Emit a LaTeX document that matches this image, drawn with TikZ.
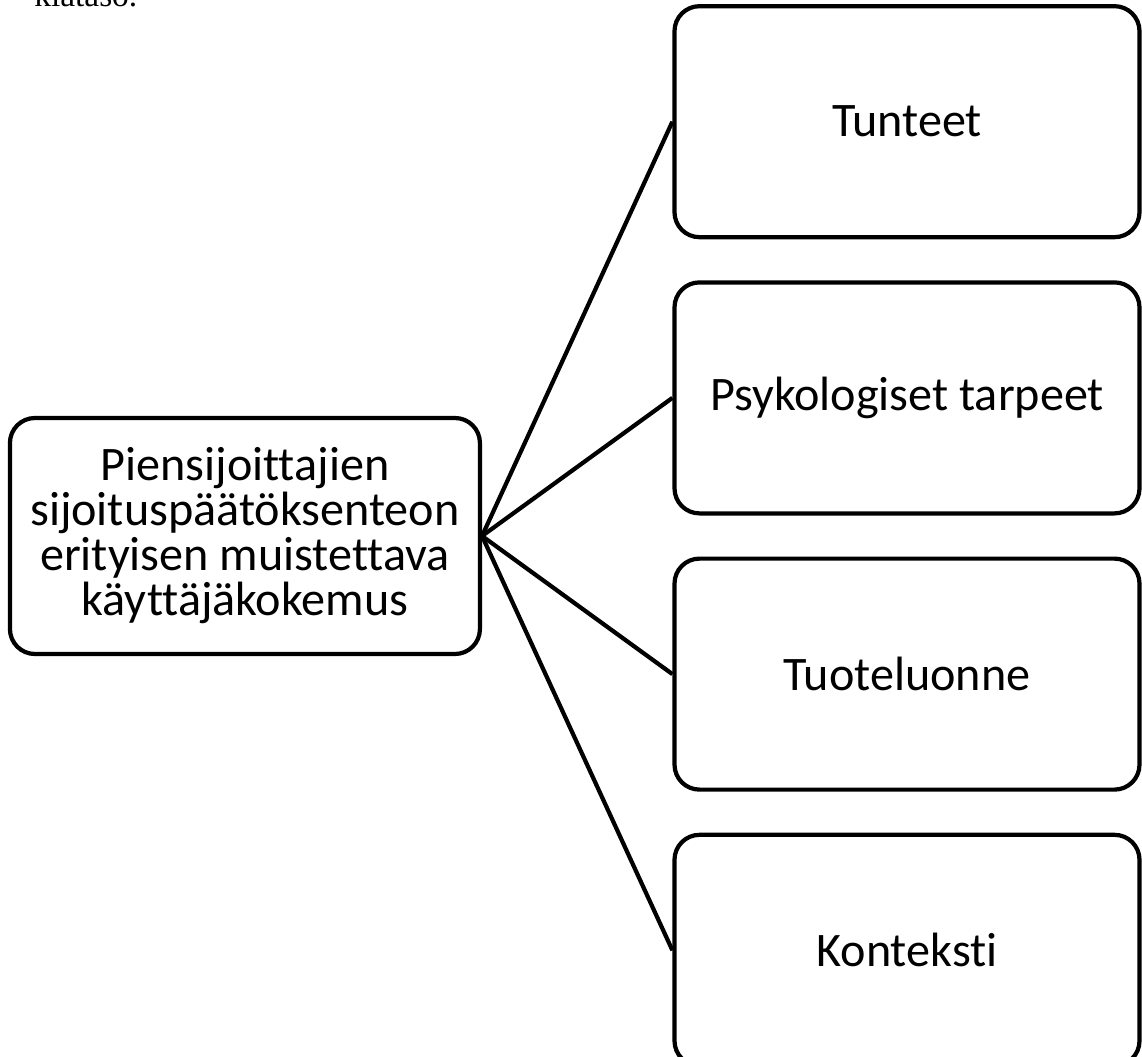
\documentclass[tikz,border=0pt]{standalone}
\usepackage{fontspec}
\setmainfont{Carlito}[Ligatures=NoCommon]
\newfontfamily\pageserif{Liberation Serif}
\usetikzlibrary{positioning}

\begin{document}
\begin{tikzpicture} [
    topic/.style  = { rectangle, draw=black, line width=2.4pt,
                      rounded corners=0.5cm, text badly centered,
                      minimum width=9.3cm, minimum height=4.62cm,
                      font=\fontsize{27.4}{32}\selectfont },
    centre/.style = { rectangle, draw=black, line width=2.4pt,
                      rounded corners=0.5cm, text badly centered,
                      align=center, minimum width=9.4cm, minimum height=4.72cm,
                      font=\fontsize{27.4}{25.6}\selectfont },
    line/.style   = { draw, line width=2.4pt },
  ]
\useasboundingbox (0,0) rectangle (22.84,-21.14);

% cut-off line of the page text above the figure
\node [anchor=base west, inner sep=0pt, font=\pageserif\fontsize{19}{22}\selectfont]
      (pagetext) at (0.68,-0.14) {kiataso.};

\matrix (boxes) [row sep=0.82cm, inner sep=0pt] at (18.14,-10.72) {
    \node [topic] (tunteet)  {Tunteet};              \\
    \node [topic] (tarpeet)  {Psykologiset tarpeet}; \\
    \node [topic] (luonne)   {Tuoteluonne};          \\
    \node [topic] (konteksti){Konteksti};            \\
  };

\node [centre, left=3.8cm of boxes] (kokemus)
      {Piensijoittajien\\ sijoituspäätöksenteon\\ erityisen muistettava\\ käyttäjäkokemus};

\begin{scope} [every path/.style=line]
    \path (kokemus.east) -- (tunteet.west);
    \path (kokemus.east) -- (tarpeet.west);
    \path (kokemus.east) -- (luonne.west);
    \path (kokemus.east) -- (konteksti.west);
\end{scope}

\end{tikzpicture}
\end{document}
